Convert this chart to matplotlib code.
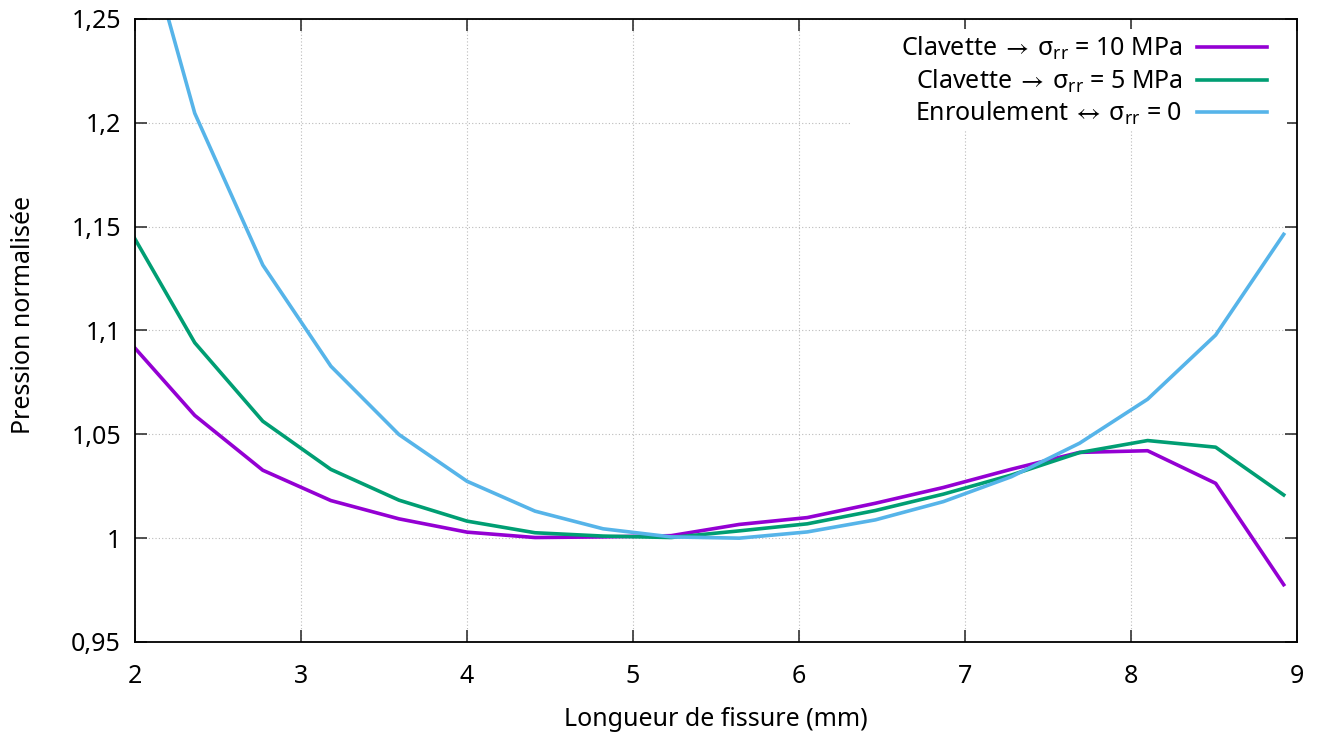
import matplotlib
matplotlib.use('Agg')
import matplotlib.pyplot as plt
from matplotlib.patches import Rectangle

# crack length [mm]
longueur = [1.95, 2.36, 2.77, 3.18, 3.59, 4.00, 4.41, 4.82, 5.23,
            5.64, 6.05, 6.46, 6.87, 7.28, 7.69, 8.10, 8.51, 8.92]

# normalised pressure, one list per loading case
clavette_10 = [1.096, 1.0591, 1.0327, 1.0181, 1.0093, 1.0029, 1.0003, 1.0006, 1.0012,
               1.0066, 1.0099, 1.0168, 1.0244, 1.0332, 1.0413, 1.0421, 1.0264, 0.9776]
clavette_5 = [1.151, 1.0941, 1.0563, 1.0331, 1.0183, 1.0082, 1.0026, 1.0010, 1.0003,
              1.0035, 1.0069, 1.0133, 1.0212, 1.0304, 1.0412, 1.0470, 1.0438, 1.0208]
enroulement = [1.322, 1.2046, 1.1315, 1.0828, 1.0499, 1.0274, 1.0130, 1.0045, 1.0006,
               1.0000, 1.0030, 1.0088, 1.0176, 1.0296, 1.0457, 1.0669, 1.0978, 1.1463]

labels = [r'Clavette$\,\rightarrow\,$σ$_{\rm rr}$ = 10 MPa',
          r'Clavette$\,\rightarrow\,$σ$_{\rm rr}$ = 5 MPa',
          r'Enroulement$\,\leftrightarrow\,$σ$_{\rm rr}$ = 0']
colors = ['#9400D3', '#009E73', '#56B4E9']

y_ticks = [0.95, 1.0, 1.05, 1.1, 1.15, 1.2, 1.25]
y_tick_labels = ['0,95', '1', '1,05', '1,1', '1,15', '1,2', '1,25']
x_ticks = [2, 3, 4, 5, 6, 7, 8, 9]

plt.rcParams['font.family'] = ['Noto Sans', 'DejaVu Sans']
plt.rcParams['mathtext.fontset'] = 'custom'
plt.rcParams['mathtext.rm'] = 'Noto Sans'
plt.rcParams['mathtext.fallback'] = 'stixsans'
plt.rcParams['font.size'] = 18

fig = plt.figure(figsize=(13.17, 7.38), dpi=100)
ax = fig.add_axes([0.1025, 0.1301, 0.8823, 0.8442])

for y, lab, col in zip([clavette_10, clavette_5, enroulement], labels, colors):
    ax.plot(longueur, y, color=col, lw=2.6, label=lab)

ax.set_xlim(2, 9)
ax.set_ylim(0.95, 1.25)
ax.set_xticks(x_ticks)
ax.set_yticks(y_ticks)
ax.set_yticklabels(y_tick_labels)
ax.tick_params(direction='in', length=8.5, width=1.2, color='#333333', top=True, right=True)
ax.tick_params(axis='y', pad=10)
ax.tick_params(axis='x', pad=16)
for sp in ax.spines.values():
    sp.set_linewidth(1.3)
ax.grid(True, linestyle=(0, (1, 2)), color='#bbbbbb', lw=0.8)

ax.set_xlabel('Longueur de fissure (mm)', labelpad=13)
ax.set_ylabel('Pression normalisée')
ax.yaxis.set_label_coords(-0.0855, 0.525)

# opaque key area hiding the grid, like the original
ax.add_patch(Rectangle((0.615, 0.822), 0.376, 0.162, transform=ax.transAxes,
                       facecolor='white', edgecolor='none', zorder=2.6))

leg = ax.legend(loc='upper right', bbox_to_anchor=(0.981, 0.986), borderaxespad=0,
                markerfirst=False, frameon=False,
                handlelength=2.8, handletextpad=0.6, labelspacing=0.2, borderpad=0.3)
leg.set_zorder(3)

fig.savefig('out.png', dpi=100)
